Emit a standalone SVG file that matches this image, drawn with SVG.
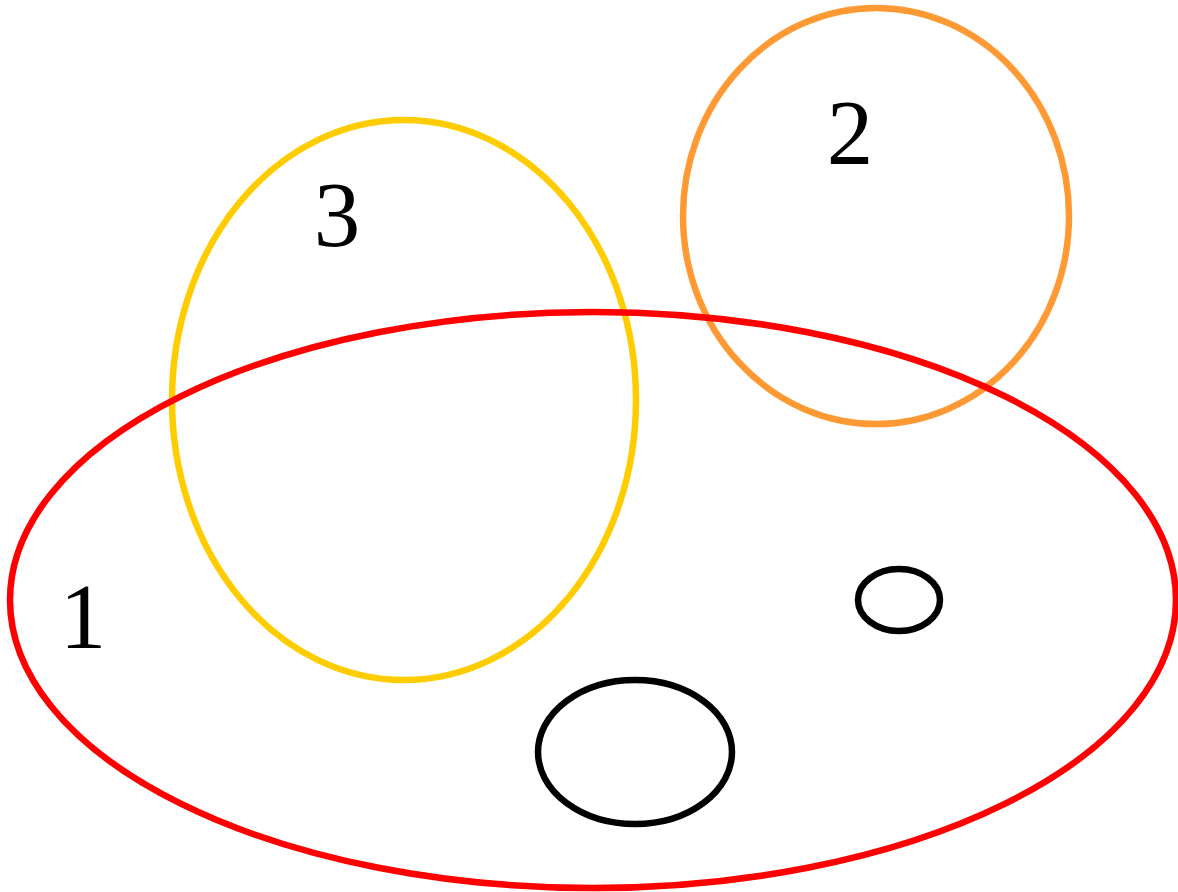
<svg xmlns="http://www.w3.org/2000/svg" width="1178" height="892" viewBox="0 0 1178 892">
<style>
.e{fill:none;stroke-width:6.5}
.t{font-family:"Liberation Serif",serif;font-size:93px;text-anchor:middle;fill:#000}
</style>
<rect width="1178" height="892" fill="#fff"/>
<g id="set3"><ellipse class="e" cx="404" cy="400" rx="232" ry="280" stroke="#FFCC00"/><text class="t" x="337" y="246">3</text></g>
<g id="set2"><ellipse class="e" cx="876" cy="216" rx="193" ry="208" stroke="#FF9933"/><text class="t" x="850" y="164">2</text></g>
<g id="set1"><ellipse class="e" cx="593" cy="600" rx="583" ry="288" stroke="#FF0000"/><text class="t" x="83" y="648">1</text></g>
<g id="small"><ellipse class="e" cx="899" cy="600" rx="41" ry="31" stroke="#000"/></g>
<g id="medium"><ellipse class="e" cx="635" cy="752" rx="97" ry="72" stroke="#000"/></g>
<g id="connectors"></g>
</svg>
